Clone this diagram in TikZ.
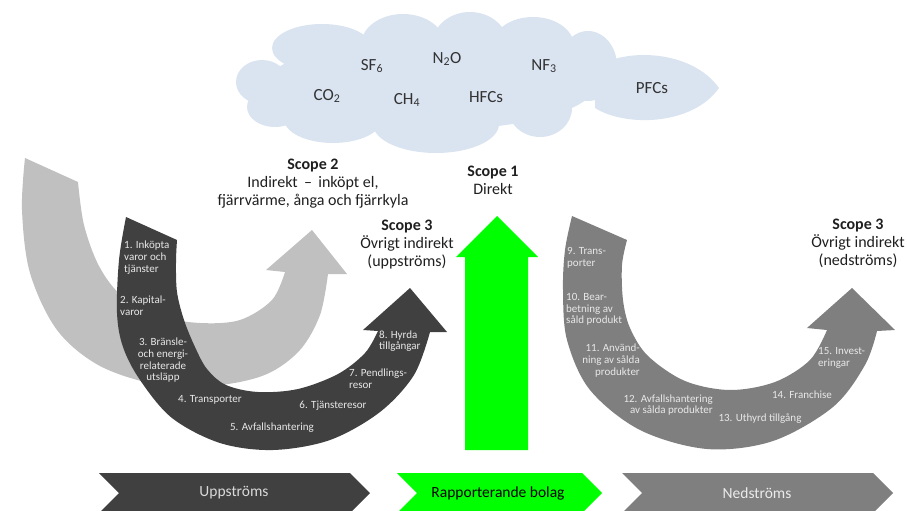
\documentclass[tikz,border=0pt]{standalone}
\usepackage{fontspec}
\setmainfont{Carlito}
\definecolor{lightarc}{HTML}{C0C0C0}
\definecolor{darkarc}{HTML}{404040}
\definecolor{midarc}{HTML}{7F7F7F}
\definecolor{greenarr}{HTML}{00FF00}
\definecolor{cloudc}{HTML}{DAE3F0}
\definecolor{labtxt}{HTML}{E8E8E8}
\begin{document}
\begin{tikzpicture}[x=1pt,y=-1pt,
  lbl/.style={font=\fontsize{16}{18}\selectfont, text=black!88, align=center, inner sep=0pt},
  gas/.style={font=\fontsize{17}{19}\selectfont, text=black!80, inner sep=0pt},
  small/.style={font=\fontsize{11}{11.7}\selectfont, text=labtxt, inner sep=0pt},
  chevtext/.style={font=\fontsize{15.5}{18}\selectfont, inner sep=0pt},
  arcsmooth/.style={smooth, tension=0.55}]
\useasboundingbox (0,0) rectangle (907,511);
\clip (0,0) rectangle (907,511);

% ---------- cloud ----------
\begin{scope}[fill=cloudc]
  \fill (262,82) ellipse [x radius=26, y radius=22];
  \fill (275,107) ellipse [x radius=28, y radius=20];
  \fill (322,48) ellipse [x radius=50, y radius=24];
  \fill (403,45) ellipse [x radius=42, y radius=31];
  \fill (470,45) ellipse [x radius=38, y radius=33];
  \fill (533,46) ellipse [x radius=41, y radius=29];
  \fill (588,66) ellipse [x radius=29, y radius=35];
  \fill (540,108) ellipse [x radius=32, y radius=29];
  \fill (436,124) ellipse [x radius=63, y radius=29];
  \fill (333,119) ellipse [x radius=49, y radius=24];
  \fill (430,85) ellipse [x radius=165, y radius=45];
  \fill (595,68) .. controls (625,47) and (692,50) .. (719,88)
        .. controls (692,126) and (625,127) .. (595,108) -- cycle;
\end{scope}
\node[gas] (co2) at (327,96) {CO\textsubscript{2}};
\node[gas] (sf6) at (372,66) {SF\textsubscript{6}};
\node[gas] (n2o) at (447,59) {N\textsubscript{2}O};
\node[gas] (ch4) at (407,100) {CH\textsubscript{4}};
\node[gas] (hfc) at (486,97) {HFCs};
\node[gas] (nf3) at (544,66) {NF\textsubscript{3}};
\node[gas] (pfc) at (652,88) {PFCs};

% ---------- light grey arc (Scope 2) ----------
\fill[lightarc] plot[arcsmooth] coordinates {(25,158) (22,210) (30,273) (57,330) (100,366) (160,385) (220,385) (267,374) (300,350) (320,315) (328,274)}
  -- (347,274) -- (312,230) -- (266,270) -- (285,272)
  -- plot[arcsmooth] coordinates {(285,272) (272,300) (240,320) (200,323) (160,316) (122,296) (99,266) (84,225) (78,182)}
  -- cycle;

% ---------- dark arc (Scope 3 upstream) ----------
\fill[darkarc] plot[arcsmooth] coordinates {(126,217) (119,260) (117,313) (123,347) (140,380) (172,418) (220,443) (273,450) (330,440) (380,412) (414,375) (430,332)}
  -- (447,332) -- (410,288) -- (363,330) -- (378,331)
  -- plot[arcsmooth] coordinates {(378,331) (365,353) (338,374) (298,389) (258,392) (226,385) (207,369) (195,347) (184,320) (177,292) (176,262) (177,240)}
  -- cycle;

% ---------- right arc (Scope 3 downstream) ----------
\fill[midarc] plot[arcsmooth] coordinates {(572,216) (565,250) (563,290) (567,340) (590,390) (640,430) (707,449) (773,441) (833,407) (865,365) (877,331)}
  -- (895,330) -- (852,288) -- (807,328) -- (827,330)
  -- plot[arcsmooth] coordinates {(827,330) (810,360) (775,382) (730,390) (685,381) (648,356) (630,328) (623,300) (622,265) (627,240)}
  -- cycle;

% ---------- green arrow (Scope 1) ----------
\fill[greenarr] (465,450) -- (465,257) -- (456,257) -- (497,216) -- (538,257) -- (528,257) -- (528,450) -- cycle;

% ---------- scope labels ----------
\node[lbl] (s2) at (313,184) {\textbf{Scope 2}\\Indirekt \,–\, inköpt el,\\fjärrvärme, ånga och fjärrkyla};
\node[lbl] (s1) at (493,180) {\textbf{Scope 1}\\Direkt};
\node[lbl] (s3u) at (407,245) {\textbf{Scope 3}\\Övrigt indirekt\\(uppströms)};
\node[lbl] (s3d) at (858,243) {\textbf{Scope 3}\\Övrigt indirekt\\(nedströms)};

% ---------- category labels ----------
\node[small, anchor=west, align=left] (c1) at (124,257.5) {1. Inköpta\\varor och\\tjänster};
\node[small, anchor=west, align=left] (c2) at (120,306) {2. Kapital-\\varor};
\node[small, align=center] (c3) at (163,360.5) {3. Bränsle-\\och energi-\\relaterade\\utsläpp};
\node[small] (c4) at (210,400) {4. Transporter};
\node[small] (c5) at (272,428) {5. Avfallshantering};
\node[small] (c6) at (333,406) {6. Tjänsteresor};
\node[small, anchor=west, align=left] (c7) at (349,379) {7. Pendlings-\\resor};
\node[small, anchor=west, align=left] (c8) at (379,341) {8. Hyrda\\tillgångar};
\node[small, anchor=west, align=left] (c9) at (567,257.5) {9. Trans-\\porter};
\node[small, anchor=west, align=left] (c10) at (566,309.5) {10. Bear-\\betning av\\såld produkt};
\node[small, anchor=east, align=right] (c11) at (640,360.5) {11. Använd-\\ning av sålda\\produkter};
\node[small, anchor=east, align=right] (c12) at (713,405) {12. Avfallshantering\\av sålda produkter};
\node[small] (c13) at (760,419) {13. Uthyrd tillgång};
\node[small] (c14) at (802,395) {14. Franchise};
\node[small, anchor=west, align=left] (c15) at (818,358) {15. Invest-\\eringar};

% ---------- chevrons ----------
\fill[darkarc] (99,473) -- (350,473) -- (370,493) -- (350,513) -- (99,513) -- (119,493) -- cycle;
\fill[greenarr] (397,473) -- (582,473) -- (602,493) -- (582,513) -- (397,513) -- (417,493) -- cycle;
\fill[midarc] (622,473) -- (873,473) -- (893,493) -- (873,513) -- (622,513) -- (642,493) -- cycle;
\node[chevtext, text=black!15] (up) at (234,493) {Uppströms};
\node[chevtext, text=black] (rb) at (498,493) {Rapporterande bolag};
\node[chevtext, text=black!8] (ned) at (757,493) {Nedströms};
\end{tikzpicture}
\end{document}
